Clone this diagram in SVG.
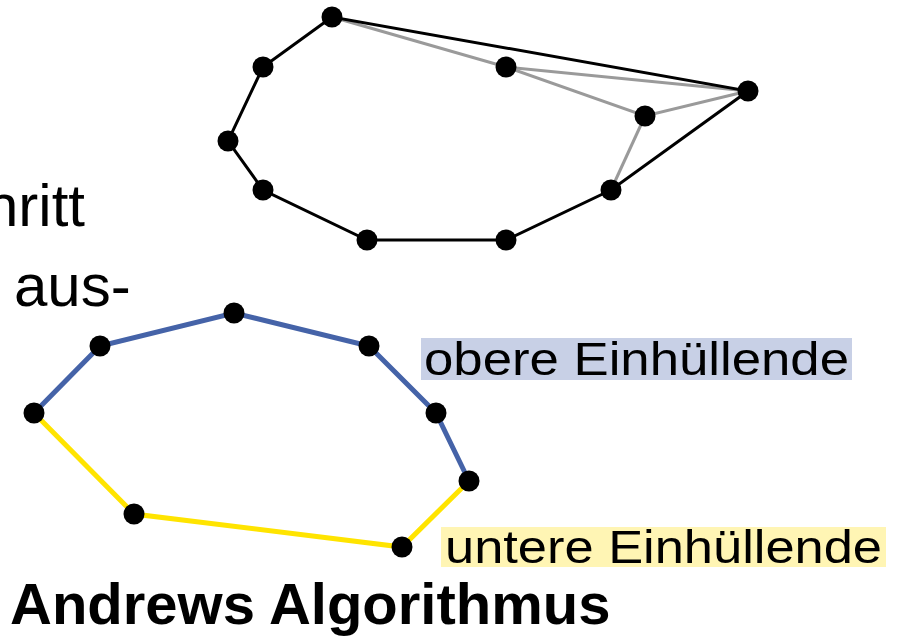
<svg xmlns="http://www.w3.org/2000/svg" width="905" height="636" viewBox="0 0 905 636">
<style>
.t{font-family:"Liberation Sans",Arial,sans-serif;fill:#000}
.blk{stroke:#000;stroke-width:3;fill:none}
.gry{stroke:#9a9a9a;stroke-width:3;fill:none}
.blu{stroke:#4563a8;stroke-width:5;fill:none}
.yel{stroke:#ffe400;stroke-width:5;fill:none}
.dot{fill:#000}
</style>
<rect width="905" height="636" fill="#fff"/>
<g id="text-fragments">
<text class="t" x="85" y="226" font-size="60" text-anchor="end">hritt</text>
<text class="t" x="14" y="306" font-size="60">aus-</text>
</g>
<g id="connectors">
<g id="top-hull">
<polyline class="gry" points="332,17 506,67 748,91"/>
<polyline class="gry" points="506,67 645,116 748,91"/>
<polyline class="gry" points="645,116 611,190"/>
<polygon class="blk" points="332,17 263,67 228,141 263,190 367,240 506,240 611,190 748,91"/>
</g>
<g id="bottom-hull">
<polyline class="yel" points="34,413 134,514 402,547 469,481"/>
<polyline class="blu" points="34,413 100,346 234,313 369,346 436,413 469,481"/>
</g>
</g>
<g id="top-points">
<circle class="dot" cx="332" cy="17" r="10.5"/>
<circle class="dot" cx="263" cy="67" r="10.5"/>
<circle class="dot" cx="228" cy="141" r="10.5"/>
<circle class="dot" cx="263" cy="190" r="10.5"/>
<circle class="dot" cx="367" cy="240" r="10.5"/>
<circle class="dot" cx="506" cy="240" r="10.5"/>
<circle class="dot" cx="611" cy="190" r="10.5"/>
<circle class="dot" cx="748" cy="91" r="10.5"/>
<circle class="dot" cx="506" cy="67" r="10.5"/>
<circle class="dot" cx="645" cy="116" r="10.5"/>
</g>
<g id="bottom-points">
<circle class="dot" cx="34" cy="413" r="10.5"/>
<circle class="dot" cx="100" cy="346" r="10.5"/>
<circle class="dot" cx="234" cy="313" r="10.5"/>
<circle class="dot" cx="369" cy="346" r="10.5"/>
<circle class="dot" cx="436" cy="413" r="10.5"/>
<circle class="dot" cx="469" cy="481" r="10.5"/>
<circle class="dot" cx="402" cy="547" r="10.5"/>
<circle class="dot" cx="134" cy="514" r="10.5"/>
</g>
<g id="label-upper">
<rect x="421" y="338" width="431" height="42" fill="#c8d0e6"/>
<text class="t" x="424" y="375" font-size="47" textLength="425" lengthAdjust="spacingAndGlyphs">obere Einhüllende</text>
</g>
<g id="label-lower">
<rect x="441" y="527" width="445" height="40" fill="#fff5b4"/>
<text class="t" x="445" y="563" font-size="47" textLength="437" lengthAdjust="spacingAndGlyphs">untere Einhüllende</text>
</g>
<g id="title">
<text class="t" x="10" y="624" font-size="58" font-weight="bold">Andrews Algorithmus</text>
</g>
</svg>
